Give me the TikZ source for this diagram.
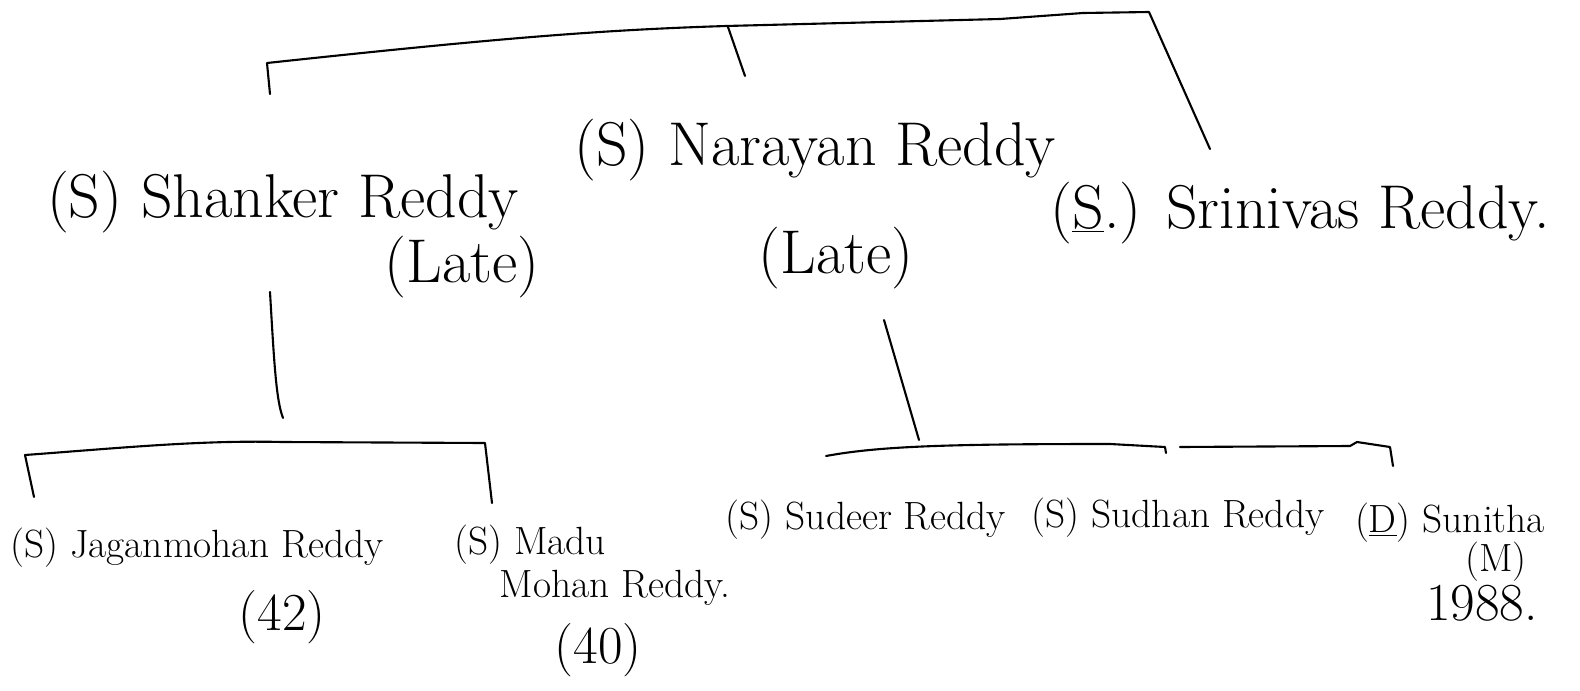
\documentclass[tikz,border=0pt]{standalone}
\usepackage{xcolor}

\tikzset{
  parent/.style={font=\fontsize{44}{50}\selectfont, inner sep=0pt},
  kid/.style={font=\fontsize{28}{32}\selectfont, inner sep=0pt},
  age/.style={font=\fontsize{38}{44}\selectfont, inner sep=0pt},
  link/.style={black, line width=1.5pt, line cap=round, line join=round}
}

\begin{document}
\begin{tikzpicture}[x=0.025cm,y=-0.025cm]
\useasboundingbox (0,0) rectangle (1580,691);
% brothers
\node[parent] (shanker) at (283,202) {(S) Shanker Reddy};
\node[parent] (shankerlate) at (462,267) {(Late)};
\node[parent] (narayan) at (815,150) {(S) Narayan Reddy};
\node[parent] (narayanlate) at (836,258) {(Late)};
\node[parent] (srinivas) at (1300,213) {(\underline{S}.) Srinivas Reddy.};
% children of Shanker
\node[kid] (jagan) at (197,548) {(S) Jaganmohan Reddy};
\node[age] (jaganage) at (282,617) {(42)};
\node[kid] (madu) at (530,545) {(S) Madu};
\node[kid] (madumohan) at (615,588) {Mohan Reddy.};
\node[age] (maduage) at (598,650) {(40)};
% children of Narayan
\node[kid] (sudeer) at (866,520) {(S) Sudeer Reddy};
\node[kid] (sudhan) at (1178,518) {(S) Sudhan Reddy};
\node[kid] (sunitha) at (1450,523) {(\underline{D}) Sunitha};
\node[kid] (sunitham) at (1496,562) {(M)};
\node[age] (sunithayear) at (1482,603) {1988.};

% top bracket
\coordinate (topl) at (267,63);
\coordinate (topr) at (1149,12);
\coordinate (topldrop) at (270,94);
\coordinate (toprdrop) at (1210,149);
\coordinate (topmid) at (728,27);
\coordinate (topmiddrop) at (745,76);
\draw[link] (topldrop) -- (topl) .. controls (500,38) and (600,30) .. (726,26)
  -- (1000,19) -- (1083,13) -- (topr) -- (toprdrop);
\draw[link] (topmid) -- (topmiddrop);

% Shanker's line
\coordinate (shankerdown) at (270,292);
\coordinate (leftbar) at (282,442);
\coordinate (leftl) at (25,455);
\coordinate (leftr) at (485,443);
\draw[link] (shankerdown) .. controls (274,360) and (276,400) .. (283,418);
\draw[link] (34,497) -- (leftl) .. controls (120,448) and (200,440) .. (leftbar)
  -- (leftr) -- (492,503);

% Narayan's line
\coordinate (narayandown) at (884,320);
\coordinate (rightl) at (826,456);
\coordinate (rightm) at (1165,447);
\coordinate (rightr) at (1390,447);
\draw[link] (narayandown) -- (919,440);
\draw[link] (rightl) .. controls (880,446) and (950,444) .. (1110,444)
  -- (rightm) -- (1166,453);
\draw[link] (1180,447) -- (1350,446) -- (1357,442) -- (rightr) -- (1393,466);
\end{tikzpicture}
\end{document}
